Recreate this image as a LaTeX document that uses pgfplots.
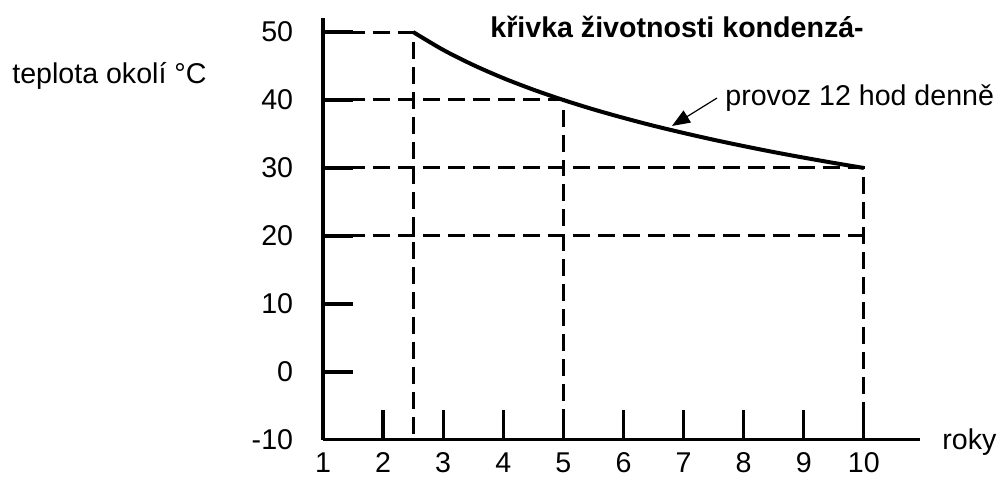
\documentclass[border=0pt]{standalone}
\usepackage{fontspec}
\setmainfont{Liberation Sans}
\usepackage{pgfplots}
\pgfplotsset{compat=1.18}
\usetikzlibrary{arrows.meta}

\begin{document}
\fontsize{14.3}{17}\selectfont
\begin{tikzpicture}
\begin{axis}[
  scale only axis,
  width=298.5pt, height=211pt,
  xmin=1, xmax=10.93, ymin=-10, ymax=52.06,
  axis lines=left,
  axis line style={-, line width=1.6pt},
  xtick={1,...,10}, ytick={-10,0,...,50},
  tick align=inside,
  major tick length=15pt,
  tick style={black, line width=1.6pt},
  /pgf/number format/assume math mode=true,
  xticklabel style={yshift=-1.5pt},
  yticklabel style={xshift=-10pt},
  clip=false,
]
% guide lines
\addplot[black, line width=1.5pt, dash pattern=on 8.5pt off 4pt]
  coordinates {(1,50) (2.5,50) (2.5,-10)};
\addplot[black, line width=1.5pt, dash pattern=on 8.5pt off 4pt]
  coordinates {(1,40) (5,40) (5,-10)};
\addplot[black, line width=1.5pt, dash pattern=on 8.5pt off 4pt]
  coordinates {(1,30) (10,30) (10,-10)};
\addplot[black, line width=1.5pt, dash pattern=on 8.5pt off 4pt]
  coordinates {(1,20) (10,20)};
% lifetime curve, 12 h per day
\addplot[black, line width=2pt, smooth] coordinates {
  (2.5,50) (3,47.37) (3.5,45.15) (4,43.22) (4.5,41.52) (5,40)
  (5.5,38.62) (6,37.37) (6.5,36.21) (7,35.15) (7.5,34.15)
  (8,33.22) (8.5,32.34) (9,31.52) (9.5,30.74) (10,30)};
% labels
\node[anchor=base west, inner sep=0pt, font=\bfseries] at (axis cs:3.779,49.26) {křivka životnosti kondenzá-};
\node[anchor=base west, inner sep=0pt] at (axis cs:-4.175,42.5) {teplota okolí °C};
\node[anchor=base west, inner sep=0pt] at (axis cs:7.689,39.26) {provoz 12 hod denně};
\node[anchor=base west, inner sep=0pt] at (axis cs:11.30,-11.47) {roky};
\draw[black, line width=0.6pt, -{Triangle[length=9pt,width=7pt]}]
  (axis cs:7.556,40.29) -- (axis cs:6.807,36.18);
% page extent
\path (axis cs:-4.374,-15.0) rectangle (axis cs:12.348,54.71);
\end{axis}
\end{tikzpicture}
\end{document}
